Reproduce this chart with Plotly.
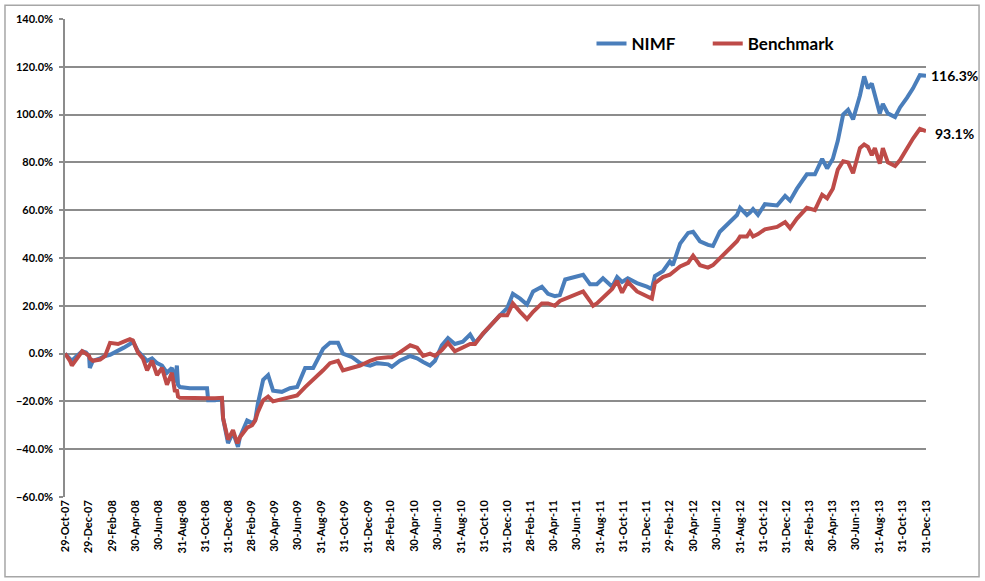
import plotly.graph_objects as go

# ---------------- data ----------------
dates = [
    "2007-10-29", "2007-11-11", "2007-11-16", "2007-11-29", "2007-12-13", "2007-12-23", "2007-12-31",
    "2008-01-02", "2008-01-10", "2008-01-29", "2008-02-11", "2008-02-24", "2008-03-16", "2008-03-31",
    "2008-04-16", "2008-04-24", "2008-05-07", "2008-05-20", "2008-05-31", "2008-06-13", "2008-06-26",
    "2008-07-09", "2008-07-22", "2008-08-04", "2008-08-12", "2008-08-17", "2008-08-20", "2008-08-25",
    "2008-09-20", "2008-10-17", "2008-11-04", "2008-11-07", "2008-11-25", "2008-12-13", "2008-12-16",
    "2008-12-26", "2008-12-29", "2009-01-11", "2009-01-21", "2009-01-24", "2009-01-29", "2009-02-17",
    "2009-03-02", "2009-03-10", "2009-03-17", "2009-03-31", "2009-04-13", "2009-04-26", "2009-05-19",
    "2009-06-09", "2009-06-28", "2009-07-19", "2009-08-09", "2009-09-04", "2009-09-22", "2009-10-13",
    "2009-10-26", "2009-11-19", "2009-12-10", "2010-01-05", "2010-01-23", "2010-02-21", "2010-03-03",
    "2010-03-24", "2010-04-20", "2010-05-08", "2010-05-24", "2010-06-11", "2010-06-24", "2010-07-12",
    "2010-07-28", "2010-08-15", "2010-09-05", "2010-09-24", "2010-10-07", "2010-10-28", "2010-11-15",
    "2010-12-11", "2010-12-30", "2011-01-14", "2011-02-02", "2011-02-20", "2011-03-08", "2011-03-31",
    "2011-04-16", "2011-05-04", "2011-05-17", "2011-05-31", "2011-06-20", "2011-07-17", "2011-08-04",
    "2011-08-12", "2011-08-22", "2011-09-07", "2011-10-01", "2011-10-14", "2011-10-27", "2011-11-11",
    "2011-12-05", "2011-12-31", "2012-01-13", "2012-01-21", "2012-02-11", "2012-02-29", "2012-03-08",
    "2012-03-27", "2012-04-17", "2012-04-30", "2012-05-18", "2012-06-08", "2012-06-21", "2012-07-09",
    "2012-08-05", "2012-08-23", "2012-08-31", "2012-09-18", "2012-09-26", "2012-10-04", "2012-10-17",
    "2012-11-04", "2012-12-06", "2012-12-27", "2013-01-09", "2013-01-27", "2013-02-22", "2013-03-15",
    "2013-04-03", "2013-04-16", "2013-05-01", "2013-05-14", "2013-05-28", "2013-06-10", "2013-06-23",
    "2013-07-11", "2013-07-22", "2013-08-01", "2013-08-11", "2013-08-19", "2013-09-01", "2013-09-09",
    "2013-09-22", "2013-10-11", "2013-10-24", "2013-11-11", "2013-11-27", "2013-12-15", "2013-12-31",
]

nimf = [
    0, -2, -3, -1, 1, 0.5, -1,
    -6, -3, -2, -1, -0.5, 1, 2.5,
    4, 5, 1, -1, -3, -2, -4,
    -5, -8, -6, -12, -5, -13, -14,
    -14.5, -14.5, -14.5, -19.5, -19.5, -19, -27,
    -35, -37.5, -33, -38, -39, -35, -28,
    -29, -28, -21, -11, -9, -15.5, -16,
    -14.5, -14, -6, -6, 2, 4.5, 4.5,
    0, -1.5, -4, -5, -4, -4.5, -5.5,
    -3, -1, -2, -3.5, -5, -3, 3.5,
    6.5, 4, 5, 8, 4.5, 8.5, 11.5,
    16, 19, 25, 23, 20.5, 26, 28,
    25, 24, 24.5, 31, 32, 33, 29,
    29, 29, 31.5, 28, 32, 30, 31.5,
    29.5, 28, 27, 32.5, 34.5, 38.5, 37,
    46, 50.5, 51, 47, 45.5, 45, 51,
    55, 58, 61, 58, 59, 60.5, 58,
    62.5, 62, 66, 64, 69, 75, 75,
    81.5, 77.5, 81.5, 89, 100, 102, 98,
    108, 116, 111, 113, 108, 100.5, 104.5,
    100.5, 99, 103, 107, 111, 116.5, 116.3,
]

benchmark = [
    0, -3, -5, -2, 1, 0, -1,
    -2, -3, -2.5, -1, 4.5, 4, 5,
    6, 5.5, 0.5, -2, -7, -3, -9,
    -6, -13, -8, -16, -15, -18, -18.5,
    -18.7, -18.7, -18.7, -18.7, -18.7, -18.5, -27,
    -34, -36, -32, -37, -37, -35, -31,
    -30, -28, -24.5, -19.5, -18, -20, -19,
    -18, -17.5, -14, -11, -7, -4, -3,
    -7, -6, -5, -3, -2, -1.5, -1.5,
    0.5, 3.5, 2.5, -1, 0, -1, 1.5,
    4.5, 1, 2.5, 4, 4, 8.5, 11.5,
    16, 16, 21, 17.5, 14.5, 17.5, 21,
    21, 20, 22, 23, 24, 26, 22,
    20, 21, 23.5, 27, 30.5, 25.5, 30,
    26, 24, 23, 29.5, 32, 33, 34,
    36.5, 38, 41, 37, 36, 37, 40,
    44, 47, 49, 49, 51, 49, 50,
    52, 53, 55, 52.5, 56.5, 61, 60,
    66.5, 65, 69, 77, 80.5, 80, 75.5,
    86, 87.5, 86.5, 83, 86, 79.5, 86,
    80, 78.5, 81, 86, 90, 94, 93.1,
]

tick_dates = [
    "2007-10-29", "2007-12-29", "2008-02-29", "2008-04-30", "2008-06-30", "2008-08-31",
    "2008-10-31", "2008-12-31", "2009-02-28", "2009-04-30", "2009-06-30", "2009-08-31",
    "2009-10-31", "2009-12-31", "2010-02-28", "2010-04-30", "2010-06-30", "2010-08-31",
    "2010-10-31", "2010-12-31", "2011-02-28", "2011-04-30", "2011-06-30", "2011-08-31",
    "2011-10-31", "2011-12-31", "2012-02-29", "2012-04-30", "2012-06-30", "2012-08-31",
    "2012-10-31", "2012-12-31", "2013-02-28", "2013-04-30", "2013-06-30", "2013-08-31",
    "2013-10-31", "2013-12-31",
]
tick_labels = [
    "29-Oct-07", "29-Dec-07", "29-Feb-08", "30-Apr-08", "30-Jun-08", "31-Aug-08",
    "31-Oct-08", "31-Dec-08", "28-Feb-09", "30-Apr-09", "30-Jun-09", "31-Aug-09",
    "31-Oct-09", "31-Dec-09", "28-Feb-10", "30-Apr-10", "30-Jun-10", "31-Aug-10",
    "31-Oct-10", "31-Dec-10", "28-Feb-11", "30-Apr-11", "30-Jun-11", "31-Aug-11",
    "31-Oct-11", "31-Dec-11", "29-Feb-12", "30-Apr-12", "30-Jun-12", "31-Aug-12",
    "31-Oct-12", "31-Dec-12", "28-Feb-13", "30-Apr-13", "30-Jun-13", "31-Aug-13",
    "31-Oct-13", "31-Dec-13",
]

series_names = ["NIMF", "Benchmark"]
end_labels = ["116.3%", "93.1%"]

# ---------------- style ----------------
BLUE = "#4A7EBB"
RED = "#BE4B48"
GRID = "#8C8C8C"
FONT = "Lato"
Y_MIN, Y_MAX = -60, 140

fig = go.Figure()
fig.add_trace(go.Scatter(x=dates, y=nimf, name=series_names[0], mode="lines",
                         line=dict(color=BLUE, width=4), legend="legend"))
fig.add_trace(go.Scatter(x=dates, y=benchmark, name=series_names[1], mode="lines",
                         line=dict(color=RED, width=4), legend="legend2"))

# end-of-line labels
fig.add_annotation(x=dates[-1], y=nimf[-1], text=end_labels[0], showarrow=False,
                   xanchor="left", xshift=3, yshift=0,
                   font=dict(family=FONT, size=14, color="black", weight="bold"))
fig.add_annotation(x=dates[-1], y=benchmark[-1], text=end_labels[1], showarrow=False,
                   xanchor="left", xshift=7, yshift=-2,
                   font=dict(family=FONT, size=14, color="black", weight="bold"))

# zero-line position as fraction of the y-domain (for the category axis tick marks)
zero_pos = (0 - Y_MIN) / (Y_MAX - Y_MIN)

legend_font = dict(family=FONT, size=17, color="black", weight="bold")

fig.update_layout(
    width=985, height=581,
    margin=dict(l=65, r=59, t=17, b=84),
    paper_bgcolor="white", plot_bgcolor="white",
    font=dict(family=FONT, color="black"),
    showlegend=True,
    legend=dict(orientation="h", x=0.6115, y=0.948, xanchor="left", yanchor="middle",
                font=legend_font, bgcolor="rgba(0,0,0,0)", itemwidth=30),
    legend2=dict(orientation="h", x=0.7465, y=0.948, xanchor="left", yanchor="middle",
                 font=legend_font, bgcolor="rgba(0,0,0,0)", itemwidth=30),
    xaxis=dict(type="date", range=[tick_dates[0], tick_dates[-1]],
               tickmode="array", tickvals=tick_dates, ticktext=tick_labels,
               tickangle=-90, showgrid=False, zeroline=False,
               showline=False, ticks="",
               tickfont=dict(family=FONT, size=11, color="black", weight="bold")),
    xaxis2=dict(type="date", range=[tick_dates[0], tick_dates[-1]], overlaying="x",
                anchor="free", position=zero_pos, side="bottom",
                tickmode="array", tickvals=tick_dates, showticklabels=False,
                ticks="outside", ticklen=5, tickwidth=1.5, tickcolor=GRID,
                showline=True, linecolor=GRID, linewidth=1.5, showgrid=False, zeroline=False),
    yaxis=dict(range=[Y_MIN, Y_MAX], dtick=20, tick0=0, tickformat=".1f", ticksuffix="%",
               showgrid=True, gridcolor=GRID, gridwidth=1.5, zeroline=False,
               showline=True, linecolor=GRID, linewidth=1.5,
               ticks="outside", ticklen=4, tickcolor=GRID, tickwidth=1.5,
               ticklabelstandoff=4,
               tickfont=dict(family=FONT, size=11, color="black", weight="bold")),
)

# outer chart border
fig.add_shape(type="rect", xref="paper", yref="paper",
              x0=-0.0697, x1=1.0616, y0=-0.167, y1=1.029,
              line=dict(color="#A6A6A6", width=1.5), fillcolor="rgba(0,0,0,0)", layer="below")

fig.write_html("out.html", config={"displayModeBar": False},
               post_script="document.body.style.margin='0px';")
